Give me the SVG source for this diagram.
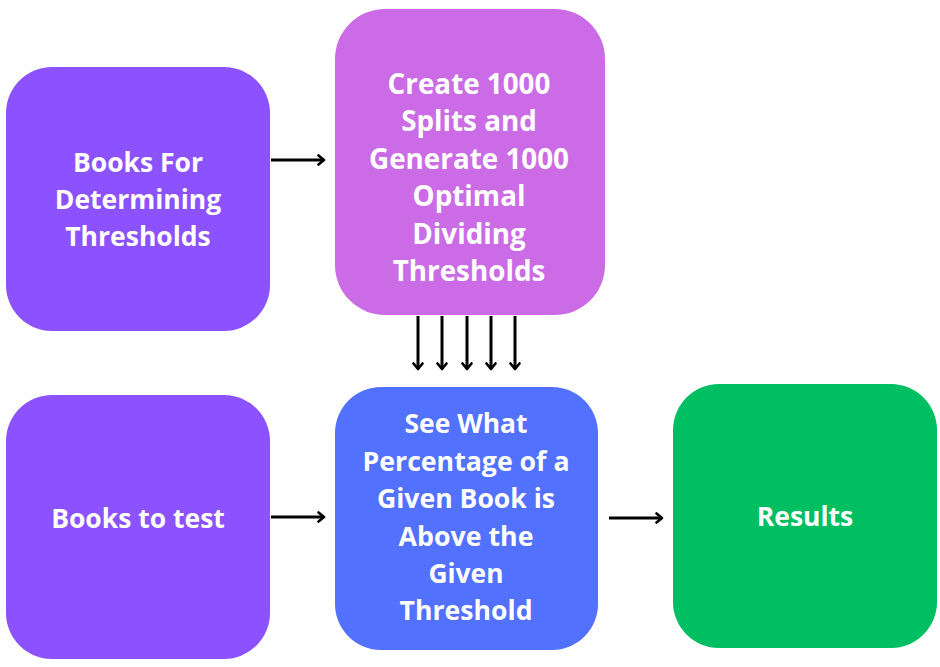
<svg xmlns="http://www.w3.org/2000/svg" width="940" height="667" viewBox="0 0 940 667">
<style>
.t{font-family:"Open Sans","Noto Sans",sans-serif;font-weight:700;font-size:26.5px;fill:#ffffff;text-anchor:middle}
.p{font-family:"Open Sans","Noto Sans",sans-serif;font-weight:700;font-size:27.8px;fill:#ffffff;text-anchor:middle}
.c{font-family:"Open Sans","Noto Sans",sans-serif;font-weight:700;font-size:26px;fill:#ffffff;text-anchor:middle}
.a{stroke:#000;stroke-width:3;fill:none}
</style>
<defs>
<marker id="ah" viewBox="0 0 12 12" refX="10.5" refY="6" markerWidth="12" markerHeight="12" markerUnits="userSpaceOnUse" orient="auto">
<path d="M5,1.5 L10.5,6 L5,10.5" fill="none" stroke="#000" stroke-width="2.6" stroke-linecap="round" stroke-linejoin="round"/>
</marker>
</defs>
<rect width="940" height="667" fill="#fff"/>
<g id="books-thresholds">
<rect x="6" y="67" width="264" height="264" rx="46" fill="#8C52FF"/>
<text class="t" x="138" y="172">Books For</text>
<text class="t" x="138" y="209">Determining</text>
<text class="t" x="138" y="246">Thresholds</text>
</g>
<g id="create-splits">
<rect x="335" y="9" width="270" height="306" rx="50" fill="#CB6CE6"/>
<text class="p" x="469" y="94">Create 1000</text>
<text class="p" x="469" y="131">Splits and</text>
<text class="p" x="469" y="169">Generate 1000</text>
<text class="p" x="469" y="206">Optimal</text>
<text class="p" x="469" y="244">Dividing</text>
<text class="p" x="469" y="281">Thresholds</text>
</g>
<g id="books-test">
<rect x="6" y="395" width="264" height="264" rx="46" fill="#8C52FF"/>
<text class="t" x="138" y="528">Books to test</text>
</g>
<g id="see-percentage">
<rect x="335" y="387" width="263" height="263" rx="46" fill="#5271FF"/>
<text class="c" x="466" y="433" textLength="123" lengthAdjust="spacingAndGlyphs">See What</text>
<text class="c" x="466" y="471" textLength="207" lengthAdjust="spacingAndGlyphs">Percentage of a</text>
<text class="c" x="466" y="508" textLength="178" lengthAdjust="spacingAndGlyphs">Given Book is</text>
<text class="c" x="466" y="546" textLength="135" lengthAdjust="spacingAndGlyphs">Above the</text>
<text class="c" x="466" y="583" textLength="75" lengthAdjust="spacingAndGlyphs">Given</text>
<text class="c" x="466" y="620" textLength="133" lengthAdjust="spacingAndGlyphs">Threshold</text>
</g>
<g id="results">
<rect x="673" y="384" width="264" height="264" rx="46" fill="#00BF63"/>
<text class="t" x="805" y="526">Results</text>
</g>
<g id="connectors">
<line class="a" x1="271" y1="160" x2="324" y2="160" marker-end="url(#ah)"/>
<line class="a" x1="271" y1="517" x2="324" y2="517" marker-end="url(#ah)"/>
<line class="a" x1="609" y1="518" x2="662" y2="518" marker-end="url(#ah)"/>
<line class="a" x1="418" y1="316" x2="418" y2="369" marker-end="url(#ah)"/>
<line class="a" x1="442" y1="316" x2="442" y2="369" marker-end="url(#ah)"/>
<line class="a" x1="467" y1="316" x2="467" y2="369" marker-end="url(#ah)"/>
<line class="a" x1="491" y1="316" x2="491" y2="369" marker-end="url(#ah)"/>
<line class="a" x1="515" y1="316" x2="515" y2="369" marker-end="url(#ah)"/>
</g>
</svg>
